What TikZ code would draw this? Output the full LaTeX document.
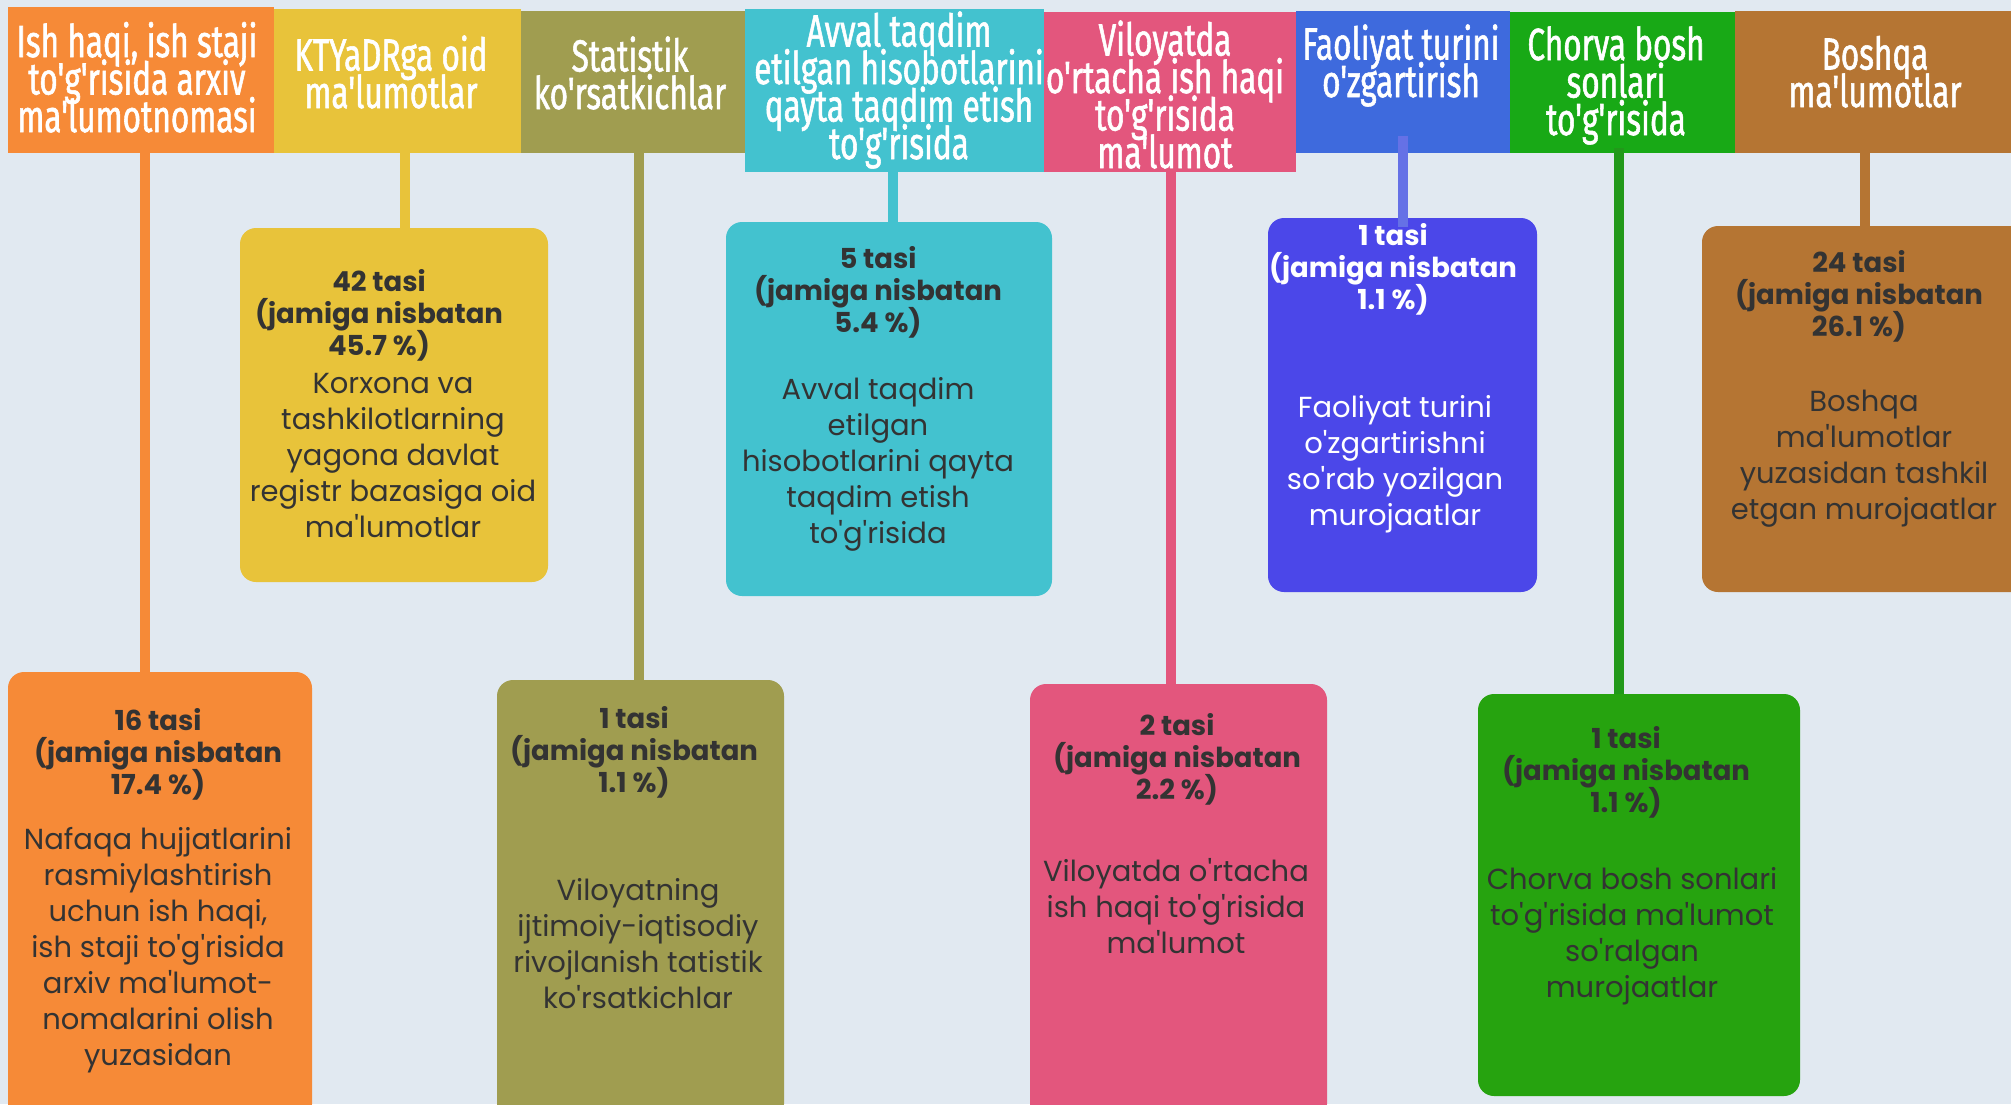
\documentclass[tikz,border=0pt]{standalone}
\usepackage{fontspec}
\newfontfamily\bodyfont{Poppins}
\newfontfamily\headfont{Fira Sans}[FakeStretch=0.70,FakeBold=1.2]
\setlength{\lineskiplimit}{-100pt}
\definecolor{bg}{HTML}{E1E9F1}
\definecolor{txt}{HTML}{333333}
\definecolor{cOr}{HTML}{F68A37}
\definecolor{cYe}{HTML}{E8C33A}
\definecolor{cOl}{HTML}{A09D50}
\definecolor{cCy}{HTML}{43C2CF}
\definecolor{cPk}{HTML}{E3567D}
\definecolor{cBlH}{HTML}{3E6ADD}
\definecolor{cBlB}{HTML}{4B47E9}
\definecolor{cBlL}{HTML}{6571E6}
\definecolor{cGrH}{HTML}{18A916}
\definecolor{cGrB}{HTML}{26A30F}
\definecolor{cGrL}{HTML}{22991A}
\definecolor{cBr}{HTML}{B57533}
\tikzset{
  hdr/.style={rectangle, inner sep=0pt, outer sep=0pt, draw=none, anchor=north west},
  card/.style={rectangle, rounded corners=16pt, inner sep=0pt, outer sep=0pt, draw=none, anchor=north west},
  htext/.style={font=\headfont\fontsize{45}{37.5}\selectfont, text=white, align=center, anchor=base, inner sep=0pt},
  btext/.style={font=\bodyfont\bfseries\fontsize{27.5}{32}\selectfont, text=txt, align=center, anchor=base, inner sep=0pt},
  rtext/.style={font=\bodyfont\fontsize{29}{36}\selectfont, text=txt, align=center, anchor=base, inner sep=0pt},
  conn/.style={line width=9.5pt},
}
\begin{document}
\begin{tikzpicture}[x=1pt,y=-1pt]
\useasboundingbox (0,0) rectangle (2011,1104);
\fill[bg] (0,0) rectangle (2011,1104);
\clip (0,0) rectangle (2011,1104);

% header boxes
\node[hdr, fill=cOr, minimum width=266pt, minimum height=146pt] (h1) at (8,7) {};
\node[hdr, fill=cYe, minimum width=247pt, minimum height=144pt] (h2) at (274,9) {};
\node[hdr, fill=cOl, minimum width=224pt, minimum height=142pt] (h3) at (521,11) {};
\node[hdr, fill=cCy, minimum width=299pt, minimum height=163pt] (h4) at (745,9) {};
\node[hdr, fill=cPk, minimum width=252pt, minimum height=160pt] (h5) at (1044,12) {};
\node[hdr, fill=cBlH, minimum width=214pt, minimum height=142pt] (h6) at (1296,11) {};
\node[hdr, fill=cGrH, minimum width=225pt, minimum height=141pt] (h7) at (1510,12) {};
\node[hdr, fill=cBr, minimum width=276pt, minimum height=142pt] (h8) at (1735,11) {};

% header texts (anchored at the baseline of the last line)
\node[htext] (t1) at (137,132) {Ish haqi, ish staji\\to'g'risida arxiv\\ma'lumotnomasi};
\node[htext] (t2) at (391,108) {KTYaDRga oid\\ma'lumotlar};
\node[htext] (t3) at (630,109) {Statistik\\ko'rsatkichlar};
\node[htext] (t4) at (899,159) {Avval taqdim\\etilgan hisobotlarini\\qayta taqdim etish\\to'g'risida};
\node[htext] (t5) at (1165,168) {Viloyatda\\o'rtacha ish haqi\\to'g'risida\\ma'lumot};
\node[htext] (t6) at (1401,97) {Faoliyat turini\\o'zgartirish};
\node[htext] (t7) at (1616,135) {Chorva bosh\\sonlari\\to'g'risida};
\node[htext] (t8) at (1875,107) {Boshqa\\ma'lumotlar};

% cards
\node[card, fill=cOr, minimum width=304pt, minimum height=448pt] (b1) at (8,672) {};
\node[card, fill=cYe, minimum width=308pt, minimum height=354pt] (b2) at (240,228) {};
\node[card, fill=cOl, minimum width=287pt, minimum height=440pt] (b3) at (497,680) {};
\node[card, fill=cCy, minimum width=326pt, minimum height=374pt] (b4) at (726,222) {};
\node[card, fill=cPk, minimum width=297pt, minimum height=436pt] (b5) at (1030,684) {};
\node[card, fill=cBlB, minimum width=269pt, minimum height=374pt] (b6) at (1268,218) {};
\node[card, fill=cGrB, minimum width=322pt, minimum height=402pt] (b7) at (1478,694) {};
\node[card, fill=cBr, minimum width=338pt, minimum height=366pt] (b8) at (1702,226) {};

% connector x positions
\coordinate (x1) at (145,0);
\coordinate (x2) at (405,0);
\coordinate (x3) at (639,0);
\coordinate (x4) at (893,0);
\coordinate (x5) at (1171,0);
\coordinate (x6) at (1403,0);
\coordinate (x7) at (1619,0);
\coordinate (x8) at (1865,0);

\draw[conn, cOr] (h1.south -| x1) -- (b1.north -| x1);
\draw[conn, cYe] (h2.south -| x2) -- (b2.north -| x2);
\draw[conn, cOl] (h3.south -| x3) -- (b3.north -| x3);
\draw[conn, cCy] (h4.south -| x4) -- (b4.north -| x4);
\draw[conn, cPk] (h5.south -| x5) -- (b5.north -| x5);
\draw[conn, cBlL] ([yshift=17pt]h6.south -| x6) -- ([yshift=-9pt]b6.north -| x6);
\draw[conn, cGrL] ([yshift=5pt]h7.south -| x7) -- (b7.north -| x7);
\draw[conn, cBr] (h8.south -| x8) -- (b8.north -| x8);

% card texts (anchored at the baseline of the last line)
\node[btext] (c1) at (158,794) {16 tasi\\(jamiga nisbatan\\17.4 \%)};
\node[rtext] (d1) at (158,1065) {Nafaqa hujjatlarini\\rasmiylashtirish\\uchun ish haqi,\\ish staji to'g'risida\\arxiv ma'lumot-\\nomalarini olish\\yuzasidan};

\node[btext] (c2) at (379,355) {42 tasi\\(jamiga nisbatan\\45.7 \%)};
\node[rtext] (d2) at (393,537) {Korxona va\\tashkilotlarning\\yagona davlat\\registr bazasiga oid\\ma'lumotlar};

\node[btext] (c3) at (634,792) {1 tasi\\(jamiga nisbatan\\1.1 \%)};
\node[rtext] (d3) at (638,1008) {Viloyatning\\ijtimoiy-iqtisodiy\\rivojlanish tatistik\\ko'rsatkichlar};

\node[btext] (c4) at (878,332) {5 tasi\\(jamiga nisbatan\\5.4 \%)};
\node[rtext] (d4) at (878,543) {Avval taqdim\\etilgan\\hisobotlarini qayta\\taqdim etish\\to'g'risida};

\node[btext] (c5) at (1177,799) {2 tasi\\(jamiga nisbatan\\2.2 \%)};
\node[rtext] (d5) at (1176,953) {Viloyatda o'rtacha\\ish haqi to'g'risida\\ma'lumot};

\node[btext, text=white] (c6) at (1393,309) {1 tasi\\(jamiga nisbatan\\1.1 \%)};
\node[rtext, text=white] (d6) at (1395,525) {Faoliyat turini\\o'zgartirishni\\so'rab yozilgan\\murojaatlar};

\node[btext] (c7) at (1626,812) {1 tasi\\(jamiga nisbatan\\1.1 \%)};
\node[rtext] (d7) at (1632,997) {Chorva bosh sonlari\\to'g'risida ma'lumot\\so'ralgan\\murojaatlar};

\node[btext] (c8) at (1859,336) {24 tasi\\(jamiga nisbatan\\26.1 \%)};
\node[rtext] (d8) at (1864,519) {Boshqa\\ma'lumotlar\\yuzasidan tashkil\\etgan murojaatlar};
\end{tikzpicture}
\end{document}
